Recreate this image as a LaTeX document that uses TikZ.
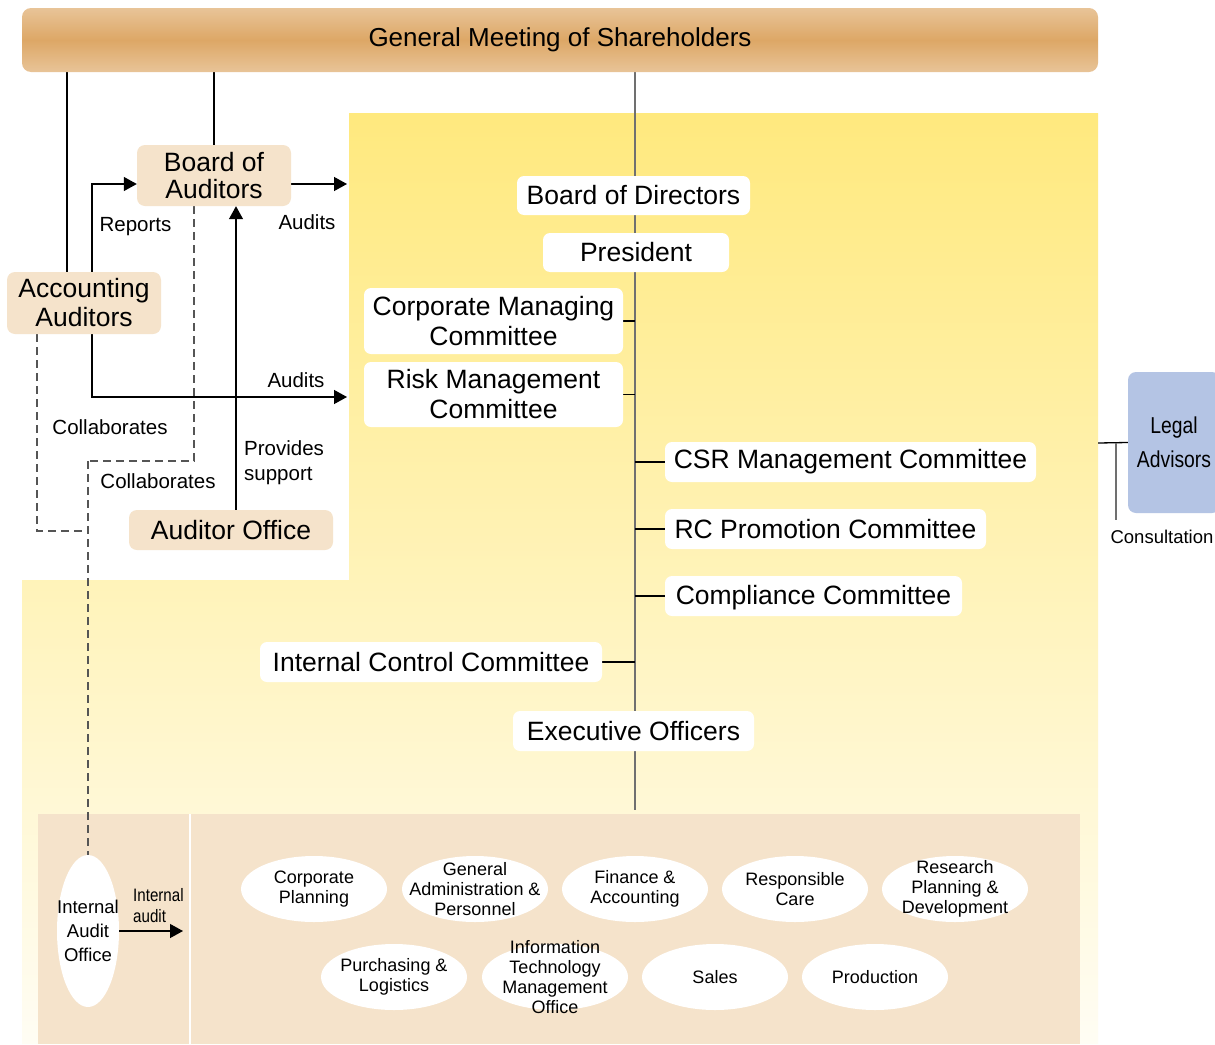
\documentclass[tikz,border=0pt]{standalone}
\usepackage{fontspec}
\setmainfont{Liberation Sans}
\newfontfamily\narrowsf[FakeStretch=0.84]{Liberation Sans}
\usetikzlibrary{math,arrows.meta,shapes.geometric,backgrounds}

\definecolor{barmid}{HTML}{DDA766}
\definecolor{barlight}{HTML}{E8C498}
\definecolor{sand}{HTML}{F5E3CB}
\definecolor{lemon}{HTML}{FFE97E}
\definecolor{cream}{HTML}{FFFDF4}
\definecolor{advisor}{HTML}{B4C4E4}
\definecolor{spinegray}{HTML}{707070}
\definecolor{dashgray}{HTML}{555555}

\newcommand{\boxfont}{\fontsize{26.5}{30}\selectfont}
\newcommand{\labelfont}{\fontsize{20.5}{25}\selectfont}
\newcommand{\deptfont}{\fontsize{18}{20}\selectfont}

\begin{document}
\begin{tikzpicture}[x=1pt, y=-1pt,
	bar/.style={rounded corners=9pt, inner sep=0pt, minimum width=1076pt, minimum height=64pt,
		top color=barlight, bottom color=barlight, middle color=barmid, font=\fontsize{26}{30}\selectfont},
	unit/.style={fill=white, rounded corners=7pt, inner sep=0pt, align=center, font=\boxfont},
	audit/.style={unit, fill=sand, rounded corners=8pt},
	dept/.style={ellipse, fill=white, inner sep=-30pt, minimum width=146pt, minimum height=66pt,
		align=center, font=\deptfont},
	lbl/.style={inner sep=0pt, font=\labelfont},
	link/.style={line width=1.3pt},
	arr/.style={link, -{Triangle[length=13pt,width=14pt]}},
	collab/.style={line width=1.3pt, dashgray, dash pattern=on 8pt off 5pt},
	spine/.style={line width=2pt, spinegray}]
	% Constants
	\tikzmath{\spinex = 635; \yardtop = 113; \yardleft = 349; \yardright = 1098; \stepy = 580; \floor = 1044;}

	\useasboundingbox (0,0) rectangle (1215,\floor);

	% Backdrops
	\begin{scope}[on background layer]
		\fill[white] (0,0) rectangle (1215,\floor);
		\shade[top color=lemon, bottom color=cream] (\yardleft,\yardtop) -- (\yardright,\yardtop)
			-- (\yardright,\floor) -- (22,\floor) -- (22,\stepy) -- (\yardleft,\stepy) -- cycle;
		\fill[sand] (38,814) rectangle (1080,\floor);
		\draw[white, line width=1.5pt] (190,814) -- (190,\floor);
	\end{scope}

	\node[bar] (gms) at (560,40) {General Meeting of Shareholders};

	% Auditing side
	\node[audit, minimum width=154pt, minimum height=61pt, font=\fontsize{26.5}{27}\selectfont] (boa) at (214,175.5) {Board of\\Auditors};
	\node[audit, minimum width=154pt, minimum height=62pt, font=\fontsize{26.5}{29}\selectfont] (aa) at (84,303) {Accounting\\Auditors};
	\node[audit, minimum width=204pt, minimum height=40pt] (ao) at (231,530) {Auditor Office};

	\node[lbl] (lblreports) at (135.5,227) {Reports};
	\node[lbl] (lblauditsa) at (307,222) {Audits};
	\node[lbl] (lblauditsb) at (296,380) {Audits};
	\node[lbl] (lblcollaba) at (110,427) {Collaborates};
	\node[lbl] (lblcollabb) at (158,481) {Collaborates};
	\node[lbl, align=left, anchor=west] (lblsupport) at (244,463) {Provides\\support};

	% Board and committees
	\node[unit, minimum width=233pt, minimum height=39pt] (bod) at (633.5,195.5) {Board of Directors};
	\node[unit, minimum width=186pt, minimum height=39pt] (pres) at (636,252.5) {President};
	\node[unit, minimum width=259pt, minimum height=66pt] (cmc) at (493.5,321) {Corporate Managing\\Committee};
	\node[unit, minimum width=259pt, minimum height=65pt] (rmc) at (493.5,394.5) {Risk Management\\Committee};
	\node[unit, minimum width=371pt, minimum height=40pt] (csr) at (850.5,462) {CSR Management Committee};
	\node[unit, minimum width=321pt, minimum height=40pt] (rcp) at (825.5,529) {RC Promotion Committee};
	\node[unit, minimum width=297pt, minimum height=40pt, text depth=2pt] (comp) at (813.5,596) {Compliance Committee};
	\node[unit, minimum width=342pt, minimum height=40pt] (icc) at (431,662) {Internal Control Committee};
	\node[unit, minimum width=241pt, minimum height=40pt] (exo) at (633.5,731) {Executive Officers};

	\node[unit, fill=advisor, rounded corners=8pt, minimum width=92pt, minimum height=141pt,
		font=\narrowsf\fontsize{23}{34}\selectfont] (legal) at (1174,442.5) {Legal\\Advisors};
	\node[lbl, font=\fontsize{18.5}{22}\selectfont] (lblconsult) at (1162,537) {Consultation};

	% Divisions
	\node[dept, minimum width=62pt, minimum height=152pt, font=\fontsize{18.5}{24}\selectfont] (iao) at (88,931) {Internal\\Audit\\Office};
	\node[lbl, align=left, anchor=west, font=\narrowsf\fontsize{18}{21}\selectfont] (lblinternal) at (133,906) {Internal\\audit};

	\node[dept] (cplan) at (314,889) {Corporate\\Planning};
	\node[dept] (gadmin) at (475,889) {General\\Administration \&\\Personnel};
	\node[dept] (finance) at (635,889) {Finance \&\\Accounting};
	\node[dept] (rcare) at (795,889) {Responsible\\Care};
	\node[dept] (rpd) at (955,889) {Research\\Planning \&\\Development};
	\node[dept] (purch) at (394,977) {Purchasing \&\\Logistics};
	\node[dept] (itmo) at (555,977) {Information\\Technology\\Management\\Office};
	\node[dept] (sales) at (715,977) {Sales};
	\node[dept] (prod) at (875,977) {Production};

	% Turning points
	\coordinate (accx) at (67,0);
	\coordinate (repx) at (92,0);
	\coordinate (supx) at (236,0);
	\coordinate (colx) at (37,0);
	\coordinate (cobx) at (194,0);
	\coordinate (bodin) at (347,184);
	\coordinate (rmin) at (347,397);
	\coordinate (ja) at (88,531);
	\coordinate (jb) at (88,461);
	\coordinate (spineend) at (\spinex,810);
	\coordinate (iaend) at (183,931);
	\coordinate (yardedge) at (\yardright,443);
	\coordinate (consult) at (1116,520);

	% Connectors
	\begin{scope}[on background layer]
		\draw[spine] (gms.south -| spineend) -- (spineend);
		\draw[link] (gms.south -| accx) -- (aa.north -| accx);
		\draw[link] (gms.south -| boa.north) -- (boa.north);

		\draw[arr] (aa.north -| repx) |- (boa.west |- bodin);
		\draw[arr] (boa.east |- bodin) -- (bodin);
		\draw[arr] (aa.south -| repx) |- (rmin);
		\draw[arr] (ao.north -| supx) -- (boa.south -| supx);

		\draw[collab] (aa.south -| colx) |- (ja);
		\draw[collab] (boa.south -| cobx) |- (jb);
		\draw[collab] (jb) -- (iao.north);

		\draw[link] (cmc.east) -- (cmc.east -| spineend);
		\draw[link] (rmc.east) -- (rmc.east -| spineend);
		\draw[link] (icc.east) -- (icc.east -| spineend);
		\draw[link] (csr.west) -- (csr.west -| spineend);
		\draw[link] (rcp.west) -- (rcp.west -| spineend);
		\draw[link] (comp.west) -- (comp.west -| spineend);

		\draw[link] (yardedge) -- (legal.west);
		\draw[link, spinegray] (yardedge -| consult) -- (consult);

		\draw[arr] (iao.east) -- (iaend);
	\end{scope}
\end{tikzpicture}
\end{document}
